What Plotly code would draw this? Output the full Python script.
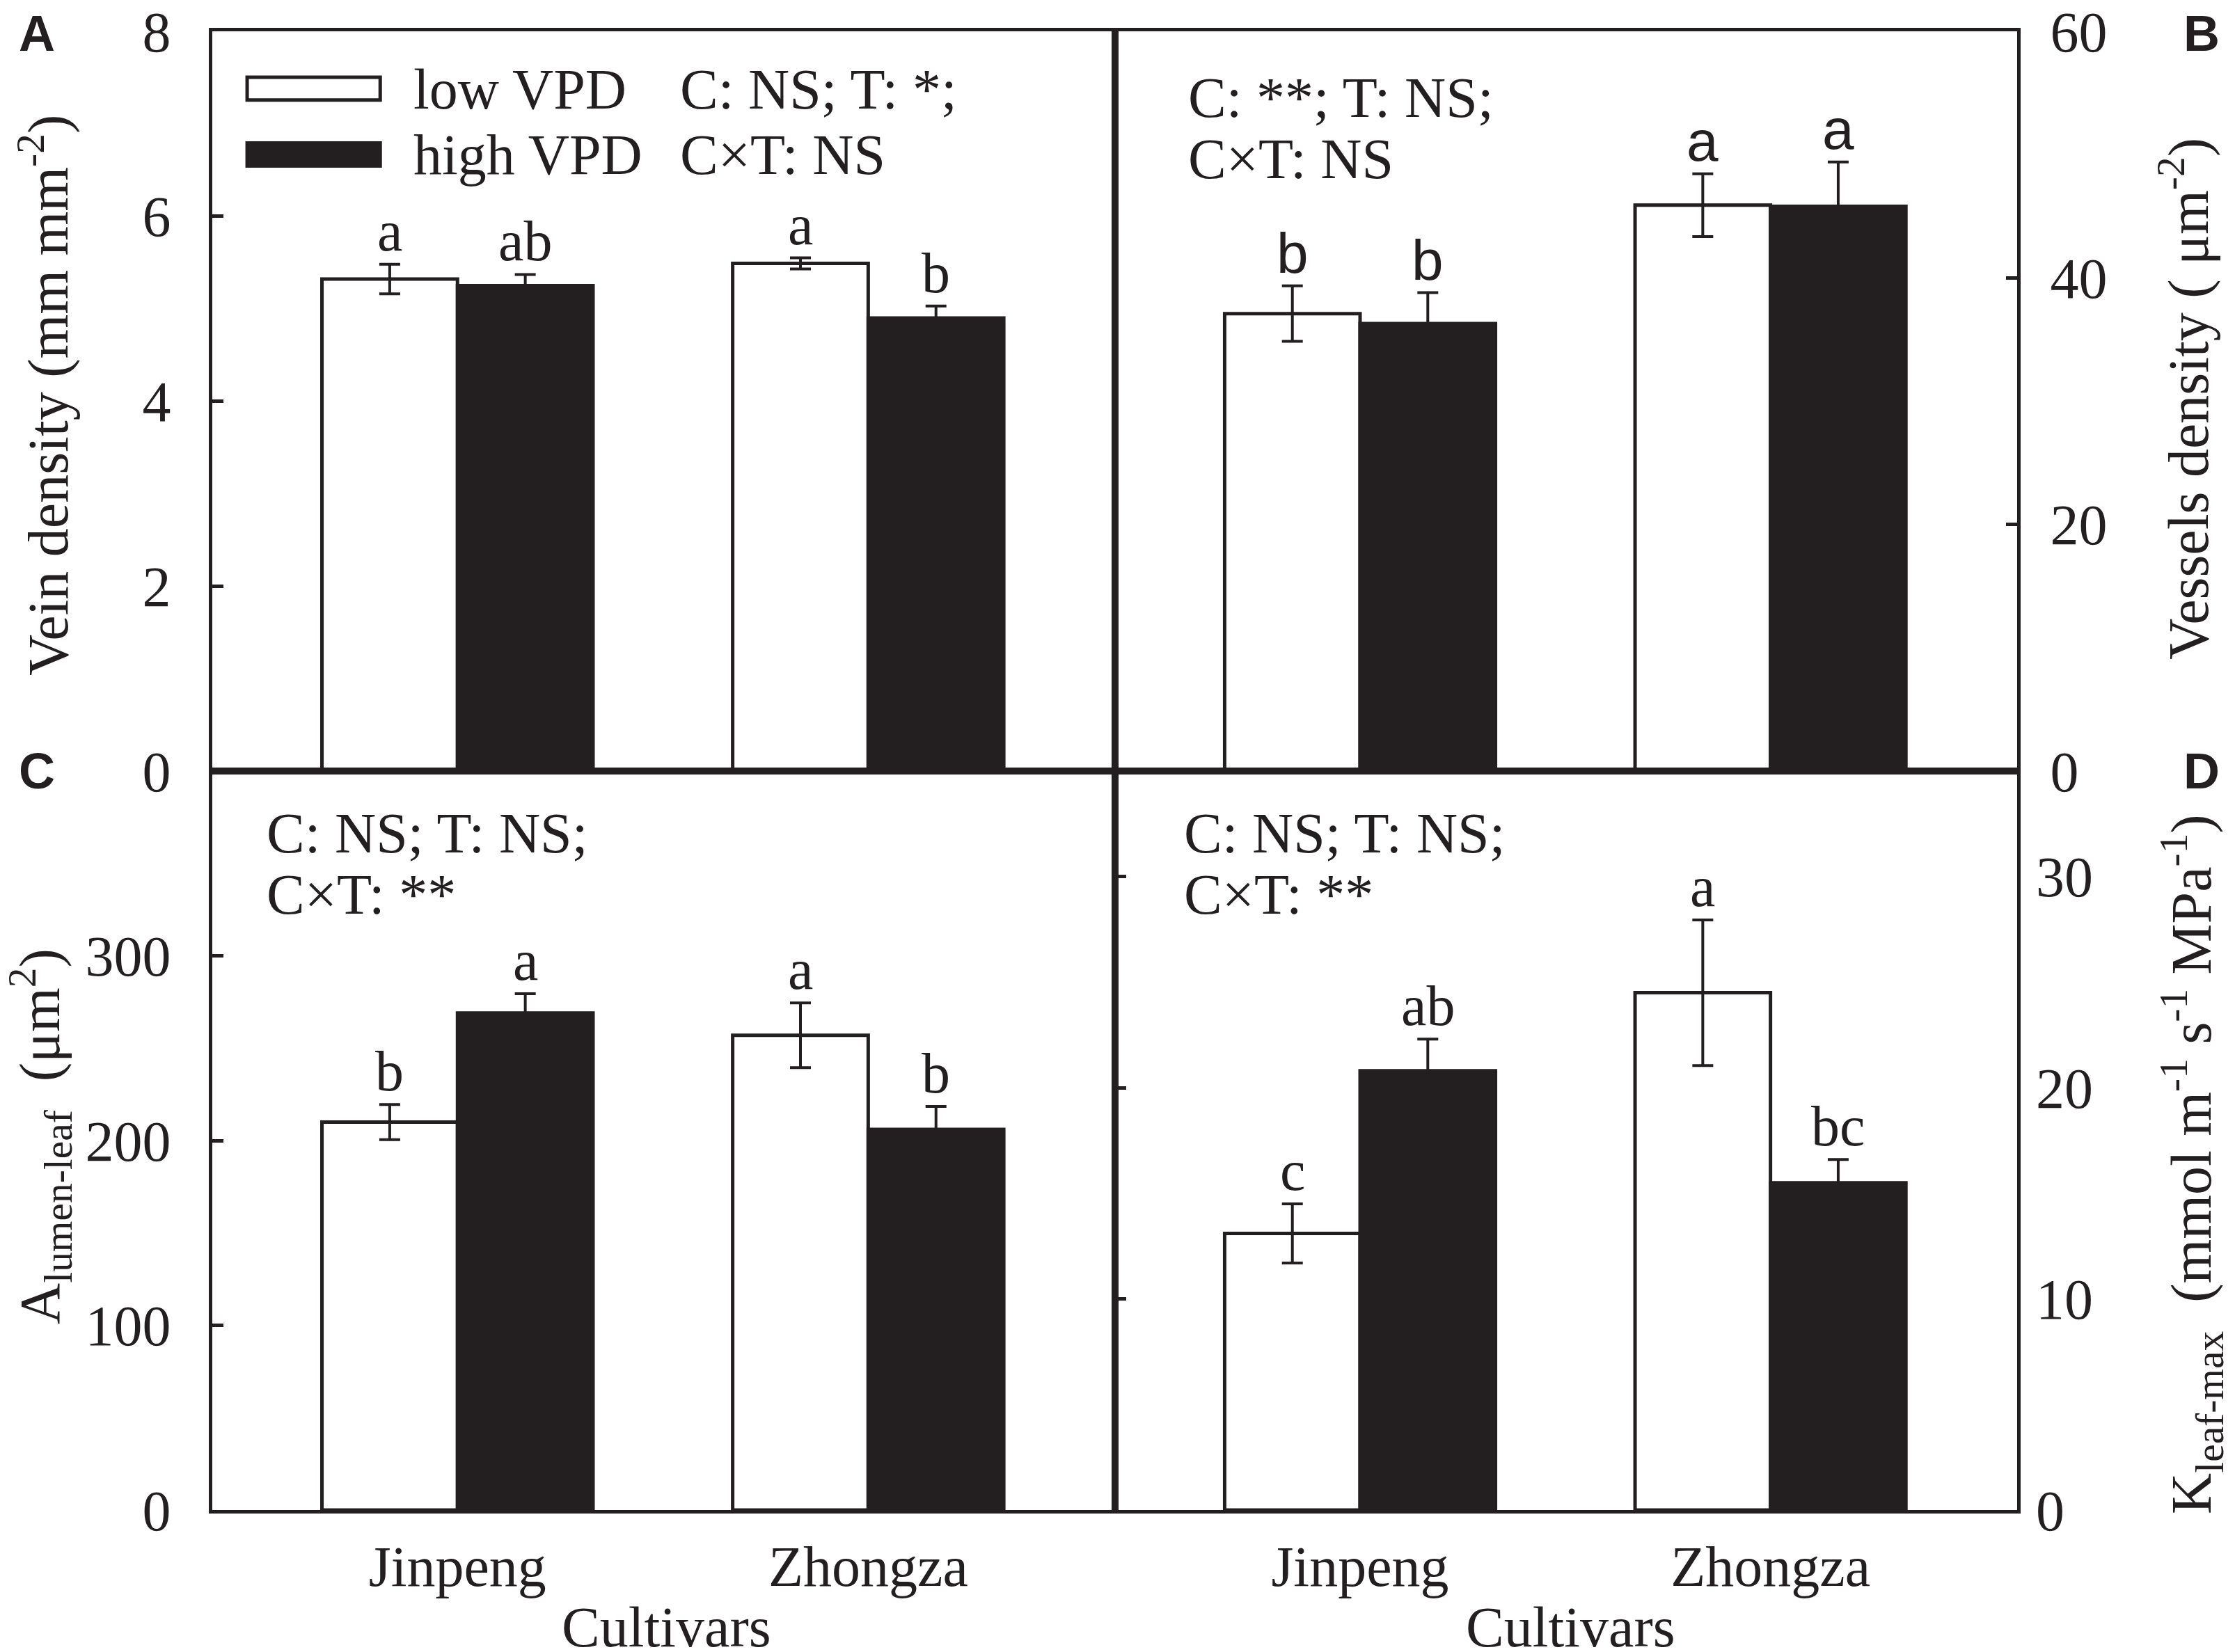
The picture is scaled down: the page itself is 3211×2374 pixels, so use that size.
import plotly.graph_objects as go

# Data
cultivars = ["Jinpeng", "Zhongza"]

vein_low = [5.32, 5.49]
vein_low_se = [0.16, 0.06]
vein_high = [5.25, 4.90]
vein_high_se = [0.12, 0.13]
vein_letters_low = ["a", "a"]
vein_letters_high = ["ab", "b"]

vessel_low = [37.1, 45.9]
vessel_low_se = [2.25, 2.55]
vessel_high = [36.3, 45.8]
vessel_high_se = [2.5, 3.6]
vessel_letters_low = ["b", "a"]
vessel_letters_high = ["b", "a"]

lumen_low = [210, 257]
lumen_low_se = [9.5, 17.5]
lumen_high = [269, 206]
lumen_high_se = [10.5, 12.5]
lumen_letters_low = ["b", "a"]
lumen_letters_high = ["a", "b"]

kleaf_low = [13.1, 24.5]
kleaf_low_se = [1.4, 3.45]
kleaf_high = [20.8, 15.5]
kleaf_high_se = [1.5, 1.1]
kleaf_letters_low = ["c", "a"]
kleaf_letters_high = ["ab", "bc"]

W, H = 3211, 2374
SERIF = "Liberation Serif"
SANS = "Liberation Sans"
INK = "#231f20"
FS = 82
BARGAP = 0.34
OFF = (1 - BARGAP) / 4

xs = list(range(len(cultivars)))

# panel domains (paper fractions)
XL = [297 / W, 1594 / W]
XR = [1594 / W, 2890 / W]
YT = [1 - 1100 / H, 1 - 37 / H]
YB = [1 - 2162 / H, 1 - 1100 / H]

fig = go.Figure()

panels = [
    ("x", "y", vein_low, vein_low_se, vein_high, vein_high_se, vein_letters_low, vein_letters_high, SERIF),
    ("x2", "y2", vessel_low, vessel_low_se, vessel_high, vessel_high_se, vessel_letters_low, vessel_letters_high, SANS),
    ("x3", "y3", lumen_low, lumen_low_se, lumen_high, lumen_high_se, lumen_letters_low, lumen_letters_high, SERIF),
    ("x4", "y4", kleaf_low, kleaf_low_se, kleaf_high, kleaf_high_se, kleaf_letters_low, kleaf_letters_high, SERIF),
]

annotations = []
for xa, ya, lo, lo_se, hi, hi_se, let_lo, let_hi, lfont in panels:
    for vals, se, fill, name in [(lo, lo_se, "white", "low VPD"), (hi, hi_se, INK, "high VPD")]:
        fig.add_trace(go.Bar(
            x=xs, y=vals, name=name, xaxis=xa, yaxis=ya,
            marker=dict(color=fill, line=dict(color=INK, width=5)),
            error_y=dict(type="data", array=se, color=INK, thickness=4, width=15),
            showlegend=False,
        ))
    for i in xs:
        for sign, vals, se, lets in [(-1, lo, lo_se, let_lo), (1, hi, hi_se, let_hi)]:
            annotations.append(dict(
                x=i + sign * OFF, y=vals[i] + se[i], xref=xa, yref=ya,
                text=lets[i], showarrow=False, yanchor="bottom", yshift=0,
                font=dict(family=lfont, size=FS, color=INK),
            ))

# right-hand labels for panel D (ticks sit on the left edge)
fig.add_trace(go.Scatter(x=[], y=[], xaxis="x4", yaxis="y5", showlegend=False))

frame = dict(showline=True, linewidth=5, linecolor=INK, mirror=True,
             showgrid=False, zeroline=False, automargin=False)
tickfont = dict(family=SERIF, size=FS, color=INK)
xr = [-0.597, len(cultivars) - 1 + 0.601]
yticks = dict(ticks="inside", ticklen=16, tickwidth=5, tickcolor=INK, tickfont=tickfont,
              ticklabeloverflow="allow")

fig.update_layout(
    width=W, height=H,
    margin=dict(l=0, r=0, t=0, b=0),
    paper_bgcolor="white", plot_bgcolor="white",
    barmode="group", bargap=BARGAP, bargroupgap=0,
    font=dict(family=SERIF, size=FS, color=INK),
    xaxis=dict(domain=XL, anchor="y", range=xr, showticklabels=False, ticks="", **frame),
    xaxis2=dict(domain=XR, anchor="y2", range=xr, showticklabels=False, ticks="", **frame),
    xaxis3=dict(domain=XL, anchor="y3", range=xr, tickvals=xs, ticktext=cultivars, ticks="",
                tickfont=tickfont, ticklabelstandoff=6, **frame),
    xaxis4=dict(domain=XR, anchor="y4", range=xr, tickvals=xs, ticktext=cultivars, ticks="",
                tickfont=tickfont, ticklabelstandoff=6, **frame),
    yaxis=dict(domain=YT, anchor="x", range=[0, 8], tickvals=[0, 2, 4, 6, 8],
               ticklabelstandoff=38, **yticks, **frame),
    yaxis2=dict(domain=YT, anchor="x2", side="right", range=[0, 60], tickvals=[0, 20, 40, 60],
                ticklabelstandoff=26, **yticks, **frame),
    yaxis3=dict(domain=YB, anchor="x3", range=[0, 400], tickvals=[0, 100, 200, 300],
                ticklabelstandoff=38, **yticks, **frame),
    yaxis4=dict(domain=YB, anchor="x4", range=[0, 35], tickvals=[0, 10, 20, 30], ticks="inside",
                ticklen=16, tickwidth=5, tickcolor=INK, showticklabels=False, **frame),
    yaxis5=dict(overlaying="y4", anchor="x4", side="right", range=[0, 35], tickvals=[0, 10, 20, 30],
                ticks="", showline=False, showgrid=False, zeroline=False, tickfont=tickfont,
                ticklabelstandoff=26, ticklabeloverflow="allow", automargin=False),
)

# statistics text and legend
def txt(x, y, s, **kw):
    d = dict(x=x / W, y=1 - y / H, xref="paper", yref="paper", text=s, showarrow=False,
             xanchor="left", yanchor="middle", font=dict(family=SERIF, size=FS, color=INK))
    d.update(kw)
    annotations.append(d)

txt(584, 121, "low VPD")
txt(584, 214, "high VPD")
txt(967, 121, "C: NS; T: *;")
txt(967, 214, "C×T: NS")
txt(1697, 133, "C: **; T: NS;")
txt(1697, 221, "C×T: NS")
txt(373, 1189, "C: NS; T: NS;")
txt(373, 1277, "C×T: **")
txt(1691, 1189, "C: NS; T: NS;")
txt(1691, 1277, "C×T: **")

# panel letters
for lab, px_, py_ in [("A", 45, 40), ("B", 3155, 40), ("C", 45, 1100), ("D", 3155, 1100)]:
    txt(px_, py_, "<b>%s</b>" % lab, xanchor="center",
        font=dict(family=SANS, size=72, color=INK))

# axis titles
txt(56, 560, "Vein density (mm mm<sup>-2</sup>)", xanchor="center", textangle=-90)
txt(50, 1625, "A<sub>lumen-leaf</sub>  (μm<sup>2</sup>)", xanchor="center", textangle=-90)
txt(3130, 565, "Vessels density ( μm<sup>-2</sup>)", xanchor="center", textangle=-90)
txt(3140, 1665, "K<sub>leaf-max</sub>  (mmol m<sup>-1</sup> s<sup>-1</sup> MPa<sup>-1</sup>)",
    xanchor="center", textangle=-90)
txt(949, 2330, "Cultivars", xanchor="center")
txt(2248, 2330, "Cultivars", xanchor="center")

fig.update_layout(annotations=annotations)

# legend swatches
fig.add_shape(type="rect", xref="x domain", yref="y domain", x0=0.0386, x1=0.186, y0=0.907, y1=0.938,
              fillcolor="white", line=dict(color=INK, width=5))
fig.add_shape(type="rect", xref="x domain", yref="y domain", x0=0.0386, x1=0.186, y0=0.818, y1=0.849,
              fillcolor=INK, line=dict(color=INK, width=5))

fig.write_html("out.html")
